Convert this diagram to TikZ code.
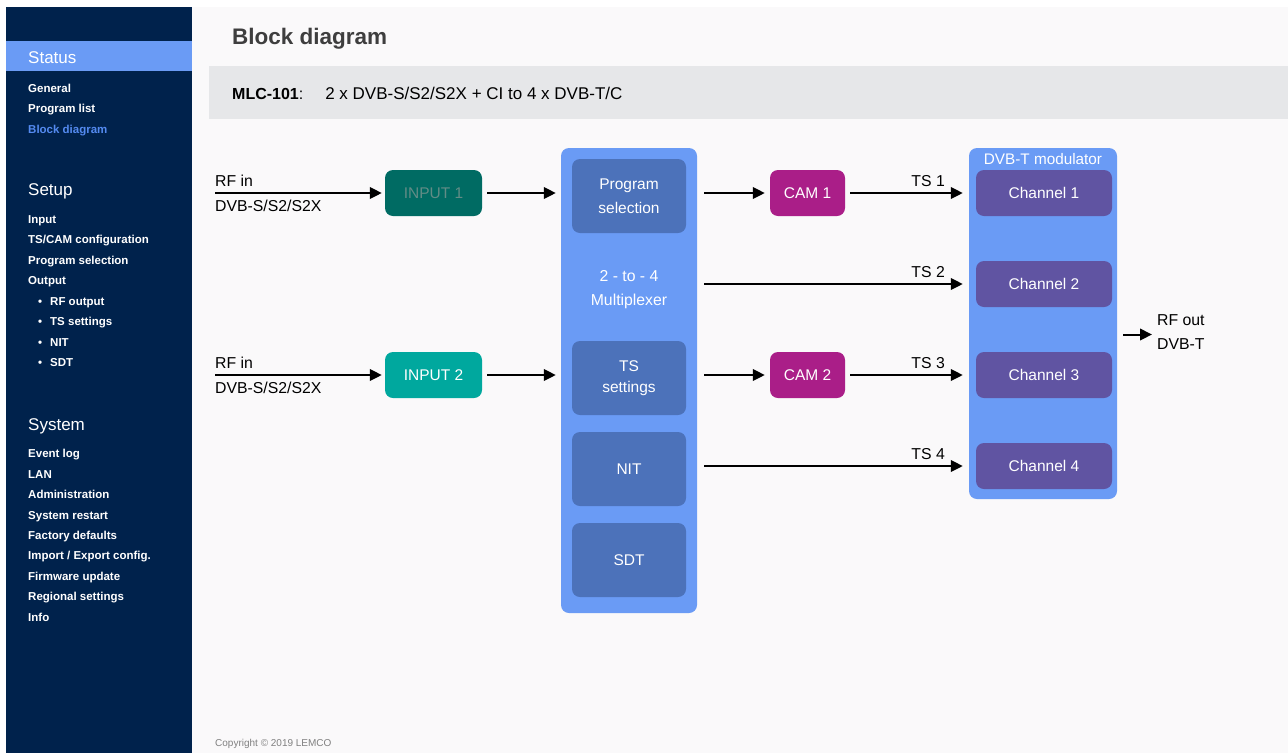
\documentclass[tikz,border=0pt]{standalone}
\usepackage{fontspec}
\setmainfont{Liberation Sans}
\usetikzlibrary{arrows.meta}
\definecolor{lemcoNavy}{RGB}{0,34,76}
\definecolor{lemcoBlue}{RGB}{106,155,245}
\definecolor{lemcoLink}{RGB}{84,138,240}
\definecolor{lemcoPage}{RGB}{250,249,250}
\definecolor{lemcoBar}{RGB}{230,231,233}
\definecolor{lemcoTitle}{RGB}{62,62,62}
\definecolor{lemcoInner}{RGB}{76,114,186}
\definecolor{lemcoInputA}{RGB}{0,107,99}
\definecolor{lemcoInputAText}{RGB}{98,140,134}
\definecolor{lemcoInputB}{RGB}{0,168,158}
\definecolor{lemcoCam}{RGB}{170,30,136}
\definecolor{lemcoChannel}{RGB}{96,84,162}

\tikzset{
  menuhead/.style={anchor=base west, inner sep=0pt, text=white, font=\fontsize{17}{20}\selectfont},
  menuitem/.style={anchor=base west, inner sep=0pt, text=white, font=\bfseries\fontsize{11.5}{14}\selectfont},
  block/.style={rounded corners=8pt, inner sep=0pt, align=center, text=white,
    font=\fontsize{15.5}{23}\selectfont},
  panel/.style={block, fill=lemcoBlue},
  inbox/.style={block, minimum width=97pt, minimum height=46pt},
  mxbox/.style={block, fill=lemcoInner, minimum width=114pt, minimum height=74pt},
  chbox/.style={block, fill=lemcoChannel, minimum width=136pt, minimum height=46pt},
  camb/.style={block, fill=lemcoCam, minimum width=75pt, minimum height=46pt},
  plain/.style={inner sep=0pt, font=\fontsize{15.8}{24}\selectfont},
  flow/.style={-{Triangle[length=12pt,width=11.5pt]}, line width=2pt, black},
  tslabel/.style={plain, anchor=base east, xshift=-23pt, yshift=7pt}
}

\begin{document}
\begin{tikzpicture}[x=1pt, y=-1pt]
  \useasboundingbox (0,0) rectangle (1288,753);
  % page and side menu
  \fill[white] (0,0) rectangle (1288,753);
  \fill[lemcoPage] (6,7) rectangle (1288,753);
  \fill[lemcoNavy] (6,7) rectangle (192,753);
  \fill[lemcoBlue] (6,41) rectangle (192,71);

  \node[menuhead] (status) at (28,63) {Status};
  \node[menuitem] (general) at (28,92) {General};
  \node[menuitem] (proglist) at (28,112.5) {Program list};
  \node[menuitem, text=lemcoLink] (blockdiag) at (28,133) {Block diagram};

  \node[menuhead] (setup) at (28,195) {Setup};
  \foreach \y/\t in {223.3/Input, 243.8/{TS/CAM configuration}, 264.3/Program selection, 284.7/Output}
    \node[menuitem] (setup-\y) at (28,\y) {\t};
  \foreach \y/\t in {305.2/RF output, 325.6/TS settings, 346/NIT, 366.4/SDT}
    \node[menuitem] (out-\y) at (38,\y) {\textbullet\hspace{8pt}\t};

  \node[menuhead] (system) at (28,430) {System};
  \foreach \y/\t in {457.6/Event log, 478.1/LAN, 498.6/Administration, 519/System restart,
      539.4/Factory defaults, 559.9/{Import / Export config.}, 580.3/Firmware update,
      600.7/Regional settings, 621.1/Info}
    \node[menuitem] (sys-\y) at (28,\y) {\t};

  % heading
  \node[anchor=west, inner sep=0pt, text=lemcoTitle, font=\bfseries\fontsize{22.5}{26}\selectfont] (title) at (232,38.5) {Block diagram};
  \fill[lemcoBar] (209,66) rectangle (1288,119);
  \node[anchor=base west, inner sep=0pt, font=\fontsize{16}{20}\selectfont] (model) at (232,99)
    {\textbf{MLC-101}:\hspace{22pt}\fontsize{17}{20}\selectfont 2 x DVB-S/S2/S2X + CI to 4 x DVB-T/C};

  % inputs
  \node[inbox, fill=lemcoInputA, text=lemcoInputAText] (in1) at (433.5,193) {INPUT 1};
  \node[inbox, fill=lemcoInputB] (in2) at (433.5,375) {INPUT 2};
  \coordinate (rf1) at (215,193);
  \coordinate (rf2) at (215,375);
  \node[plain, anchor=base west] (rf1top) at (215,186) {RF in};
  \node[plain, anchor=base west] (rf1bot) at (215,211.5) {DVB-S/S2/S2X};
  \node[plain, anchor=base west] (rf2top) at (215,368) {RF in};
  \node[plain, anchor=base west] (rf2bot) at (215,393.5) {DVB-S/S2/S2X};

  % multiplexer
  \node[panel, minimum width=136pt, minimum height=465pt] (mux) at (629,380.5) {};
  \node[mxbox] (prog) at (629,196) {\raisebox{-2pt}{\shortstack{Program\\[7pt]selection}}};
  \node[plain, align=center, text=white] (muxname) at (629,290) {2 - to - 4\\Multiplexer};
  \node[mxbox] (tsset) at (629,378) {\raisebox{-2pt}{\shortstack{TS\\[7pt]settings}}};
  \node[mxbox] (nit) at (629,469) {NIT};
  \node[mxbox] (sdt) at (629,560) {SDT};

  % CAMs
  \node[camb] (cam1) at (807.5,193) {CAM 1};
  \node[camb] (cam2) at (807.5,375) {CAM 2};

  % modulator
  \node[panel, minimum width=148pt, minimum height=351pt] (mod) at (1043,323.5) {};
  \node[plain, text=white, font=\fontsize{15.3}{18}\selectfont] (modname) at (1043,159) {DVB-T modulator};
  \node[chbox] (ch1) at (1044,193) {Channel 1};
  \node[chbox] (ch2) at (1044,284) {Channel 2};
  \node[chbox] (ch3) at (1044,375) {Channel 3};
  \node[chbox] (ch4) at (1044,466) {Channel 4};

  \coordinate (rfout) at (1152,334.5);
  \node[plain, anchor=west, align=left] (rfoutname) at (1157,332) {RF out\\DVB-T};

  % connections
  \draw[flow, shorten >=3pt] (rf1) -- (in1.west);
  \draw[flow, shorten >=3pt] (rf2) -- (in2.west);
  \draw[flow, shorten <=5pt, shorten >=5pt] (in1.east) -- (in1.east -| mux.west);
  \draw[flow, shorten <=5pt, shorten >=5pt] (in2.east) -- (in2.east -| mux.west);
  \draw[flow, shorten <=7pt, shorten >=5pt] (cam1.west -| mux.east) -- (cam1.west);
  \draw[flow, shorten <=7pt, shorten >=5pt] (cam2.west -| mux.east) -- (cam2.west);
  \draw[flow, shorten <=5pt, shorten >=6pt] (cam1.east) -- (cam1.east -| mod.west) node[tslabel] {TS 1};
  \draw[flow, shorten <=7pt, shorten >=6pt] (ch2.west -| mux.east) -- (ch2.west -| mod.west) node[tslabel] {TS 2};
  \draw[flow, shorten <=5pt, shorten >=6pt] (cam2.east) -- (cam2.east -| mod.west) node[tslabel] {TS 3};
  \draw[flow, shorten <=7pt, shorten >=6pt] (ch4.west -| mux.east) -- (ch4.west -| mod.west) node[tslabel] {TS 4};
  \draw[flow, shorten <=6pt] (mod.east |- rfout) -- (rfout);

  \node[anchor=west, inner sep=0pt, text=gray, font=\fontsize{10}{12}\selectfont] (copy) at (215,744) {Copyright \textcopyright{} 2019 LEMCO};
\end{tikzpicture}
\end{document}
